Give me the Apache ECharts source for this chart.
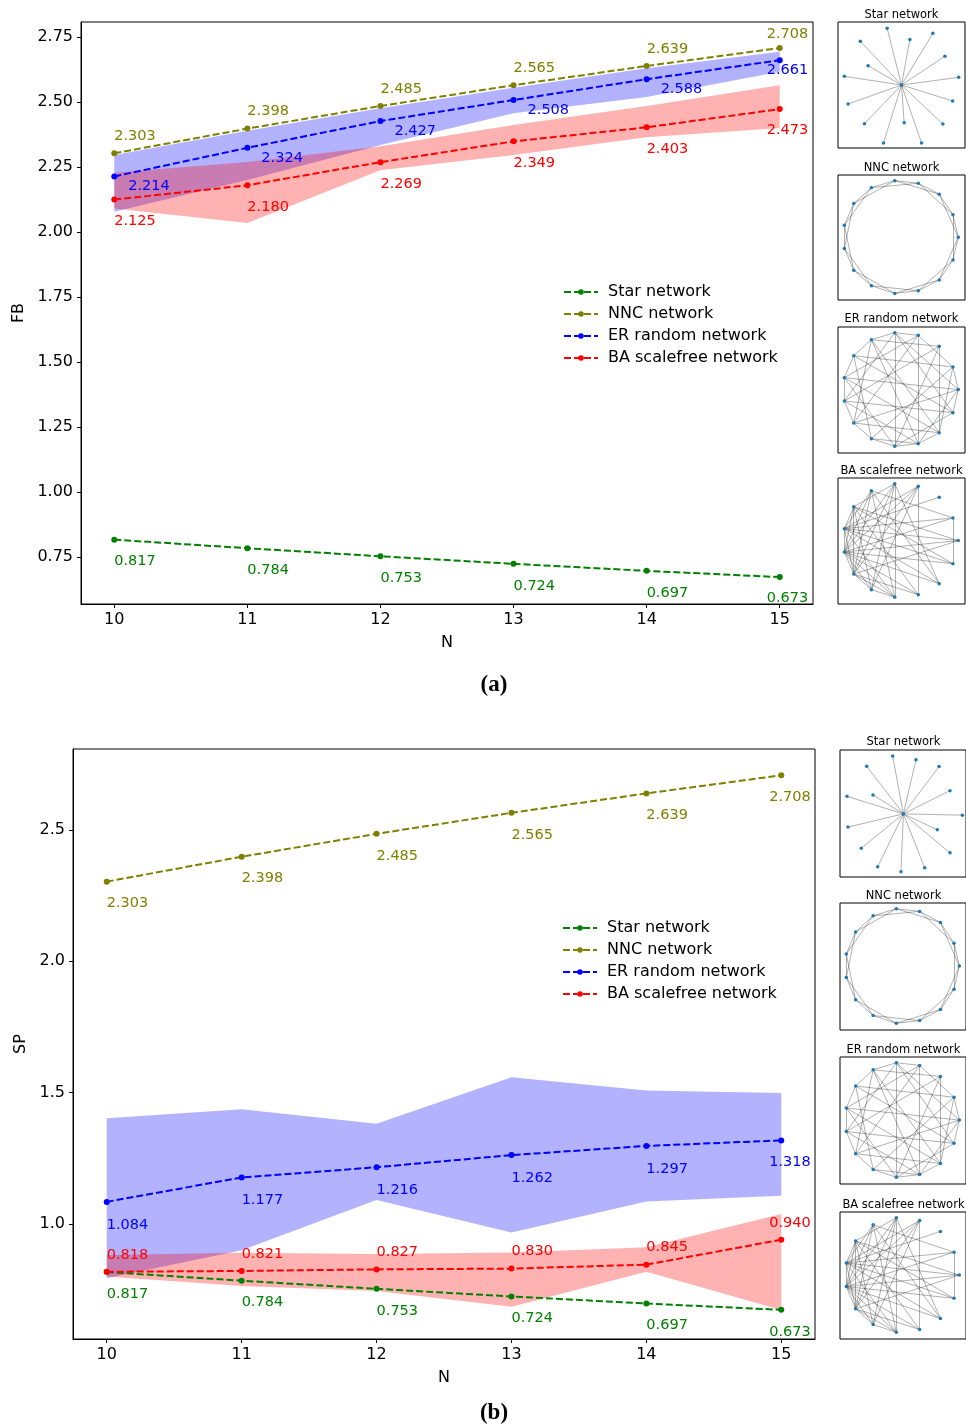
<!DOCTYPE html>
<html>
<head>
<meta charset="utf-8">
<script src="https://cdn.jsdelivr.net/npm/echarts@6/dist/echarts.min.js"></script>
<style>
html,body{margin:0;padding:0;background:#fff;}
#c{width:966px;height:1428px;}
</style>
</head>
<body>
<div id="c"></div>
<script>
// ---------------- data ----------------
const N = [10, 11, 12, 13, 14, 15];
const seriesNames = ['Star network', 'NNC network', 'ER random network', 'BA scalefree network'];

// panel (a): FB
const starFB = [0.817, 0.784, 0.753, 0.724, 0.697, 0.673];
const nncFB  = [2.303, 2.398, 2.485, 2.565, 2.639, 2.708];
const erFB   = [2.214, 2.324, 2.427, 2.508, 2.588, 2.661];
const baFB   = [2.125, 2.180, 2.269, 2.349, 2.403, 2.473];
const erFBLo = [2.078, 2.200, 2.335, 2.457, 2.520, 2.617];
const erFBHi = [2.296, 2.390, 2.476, 2.555, 2.630, 2.694];
const baFBLo = [2.091, 2.035, 2.238, 2.296, 2.365, 2.400];
const baFBHi = [2.228, 2.270, 2.330, 2.412, 2.485, 2.565];

// panel (b): SP
const starSP = [0.817, 0.784, 0.753, 0.724, 0.697, 0.673];
const nncSP  = [2.303, 2.398, 2.485, 2.565, 2.639, 2.708];
const erSP   = [1.084, 1.177, 1.216, 1.262, 1.297, 1.318];
const baSP   = [0.818, 0.821, 0.827, 0.830, 0.845, 0.940];
const erSPLo = [0.793, 0.900, 1.091, 0.967, 1.085, 1.107];
const erSPHi = [1.402, 1.437, 1.381, 1.558, 1.508, 1.498];
const baSPLo = [0.800, 0.764, 0.745, 0.685, 0.818, 0.672];
const baSPHi = [0.882, 0.890, 0.886, 0.891, 0.911, 1.038];

// tick labels
const xTicks = [10, 11, 12, 13, 14, 15];
const yTicksA = [0.75, 1.00, 1.25, 1.50, 1.75, 2.00, 2.25, 2.50, 2.75];
const yTicksB = [1.0, 1.5, 2.0, 2.5];

// network thumbnails (node positions in box units 0..100)
const netTitles = ['Star network', 'NNC network', 'ER random network', 'BA scalefree network'];
const starNodesA = [[50.0,50.0],[38.7,5.0],[56.6,13.8],[74.7,9.0],[17.6,15.3],[84.2,27.2],[23.7,34.7],[5.0,43.1],[95.0,43.9],[7.9,65.1],[90.3,62.7],[20.8,80.7],[52.1,79.9],[82.6,81.0],[35.8,96.0],[65.8,96.0]];
const starNodesB = [[50.3,50.3],[41.8,4.7],[60.3,7.6],[21.2,12.8],[78.6,13.0],[87.3,32.0],[5.6,36.5],[26.2,35.4],[97.1,51.3],[6.3,60.7],[77.2,62.8],[16.9,77.3],[87.3,81.0],[29.9,91.9],[48.4,95.8],[67.2,92.7]];
const starEdges = [[0,1],[0,2],[0,3],[0,4],[0,5],[0,6],[0,7],[0,8],[0,9],[0,10],[0,11],[0,12],[0,13],[0,14],[0,15]];
const circleNodes = [[94.7,49.7],[90.5,31.7],[79.7,15.3],[63.2,6.6],[44.7,4.5],[26.3,10.1],[12.4,22.8],[5.0,40.2],[5.0,58.7],[12.4,76.2],[26.3,88.6],[44.7,94.7],[63.2,92.6],[79.7,83.9],[90.5,68.0]];
const nncEdges = [[0,1],[1,2],[2,3],[3,4],[4,5],[5,6],[6,7],[7,8],[8,9],[9,10],[10,11],[11,12],[12,13],[13,14],[14,0],
                  [0,2],[1,3],[2,4],[3,5],[4,6],[5,7],[6,8],[7,9],[8,10],[9,11],[10,12],[11,13],[12,14],[13,0],[14,1]];
const erEdges = [[0,1],[0,4],[0,7],[0,9],[0,12],[0,14],[1,3],[1,6],[1,10],[1,13],[2,5],[2,8],[2,11],[2,13],
                 [3,4],[3,7],[3,9],[3,12],[4,5],[4,8],[4,11],[4,14],[5,6],[5,9],[5,12],[5,13],[6,7],[6,10],[6,14],
                 [7,8],[7,11],[7,13],[8,9],[8,12],[8,14],[9,10],[9,13],[10,11],[10,12],[11,12],[11,14],[12,13]];
const baEdges = [[2,7],[1,14],[1,7],[1,8],[1,5],[0,7],[0,8],[0,6],[0,9],[14,8],[14,7],[14,6],
                 [13,7],[13,8],[13,5],[13,4],[12,8],[12,6],[12,3],[12,9],[11,7],[11,4],[11,5],[11,9],
                 [10,8],[10,3],[10,6],[10,4],[3,7],[3,8],[3,9],[4,8],[4,9],[4,6],[5,7],[5,8],[5,9],
                 [6,7],[6,8],[6,9],[7,8],[7,9],[8,9],[9,10],[10,11],[8,11]];

// ---------------- styles / layout ----------------
const FONT = 'DejaVu Sans';
const COLORS = ['#008000', '#808000', '#0000ff', '#ff0000'];
const chart = echarts.init(document.getElementById('c'), null, {renderer: 'canvas'});

const mainGrids = [
  {left: 81, top: 22, width: 732, height: 582},
  {left: 73, top: 749, width: 742, height: 590}
];
const thumbGridsA = [
  {left: 838, top: 22, width: 127, height: 126, ty: 15},
  {left: 838, top: 175, width: 127, height: 125, ty: 168},
  {left: 838, top: 327, width: 127, height: 126, ty: 319},
  {left: 838, top: 478, width: 127, height: 126, ty: 471}
];
const thumbGridsB = [
  {left: 840, top: 750, width: 127, height: 127, ty: 742},
  {left: 840, top: 903, width: 127, height: 127, ty: 896},
  {left: 840, top: 1057, width: 127, height: 127, ty: 1050},
  {left: 840, top: 1212, width: 127, height: 127, ty: 1205}
];

const grid = [], xAxis = [], yAxis = [], series = [], graphic = [];

function mainAxes(gi, g, ymin, ymax, yticks, yfmt, yname, ygap) {
  grid.push({left: g.left, top: g.top, width: g.width, height: g.height, show: true,
             borderColor: '#000', borderWidth: 1, backgroundColor: 'transparent'});
  xAxis.push({
    gridIndex: gi, type: 'value', min: 9.75, max: 15.25,
    name: 'N', nameLocation: 'middle', nameGap: 31,
    nameTextStyle: {fontFamily: FONT, fontSize: 16, color: '#000'},
    axisLine: {show: true, onZero: false, lineStyle: {color: '#000', width: 1}},
    axisTick: {show: true, length: 4, lineStyle: {color: '#000'}, customValues: xTicks},
    axisLabel: {show: true, margin: 8, fontFamily: FONT, fontSize: 16, color: '#000', customValues: xTicks,
                formatter: v => String(v)},
    splitLine: {show: false}
  });
  yAxis.push({
    gridIndex: gi, type: 'value', min: ymin, max: ymax,
    name: yname, nameLocation: 'middle', nameGap: ygap,
    nameTextStyle: {fontFamily: FONT, fontSize: 16, color: '#000'},
    axisLine: {show: true, onZero: false, lineStyle: {color: '#000', width: 1}},
    axisTick: {show: true, length: 4, lineStyle: {color: '#000'}, customValues: yticks},
    axisLabel: {show: true, margin: 8, fontFamily: FONT, fontSize: 16, color: '#000', customValues: yticks,
                padding: [4, 0, 0, 0],
                formatter: v => Number(v).toFixed(yfmt)},
    splitLine: {show: false}
  });
}

function band(gi, lo, hi, fill) {
  series.push({
    type: 'custom', xAxisIndex: gi, yAxisIndex: gi, silent: true, z: 1,
    data: [[N[0], lo[0]]],
    renderItem: function (params, api) {
      const pts = [];
      for (let i = 0; i < N.length; i++) pts.push(api.coord([N[i], hi[i]]));
      for (let i = N.length - 1; i >= 0; i--) pts.push(api.coord([N[i], lo[i]]));
      return {type: 'polygon', shape: {points: pts}, style: {fill: fill}};
    }
  });
}

function line(gi, name, vals, color, off, lastOff) {
  series.push({
    type: 'line', name: name, xAxisIndex: gi, yAxisIndex: gi, z: 3,
    symbol: 'circle', symbolSize: 6, showSymbol: true,
    lineStyle: {color: color, width: 2, type: [7, 3]},
    itemStyle: {color: color},
    data: N.map((n, i) => {
      const o = (i === N.length - 1) ? lastOff : off;
      return {
        value: [n, vals[i]],
        label: {show: true, position: [3 + o[0], 5 + o[1]], align: 'left', verticalAlign: 'middle',
                color: color, fontFamily: FONT, fontSize: 14.5,
                formatter: p => vals[p.dataIndex].toFixed(3)}
      };
    })
  });
}

// panel (a)
mainAxes(0, mainGrids[0], 0.5695, 2.808, yTicksA, 2, 'FB', 43);
band(0, erFBLo, erFBHi, 'rgba(0,0,255,0.3)');
band(0, baFBLo, baFBHi, 'rgba(255,0,0,0.3)');
line(0, seriesNames[0], starFB, COLORS[0], [0, 20], [-13, 19]);
line(0, seriesNames[1], nncFB, COLORS[1], [0, -19], [-13, -16]);
line(0, seriesNames[2], erFB, COLORS[2], [14, 8], [-13, 8]);
line(0, seriesNames[3], baFB, COLORS[3], [0, 20], [-13, 19]);

// panel (b)
mainAxes(1, mainGrids[1], 0.562, 2.808, yTicksB, 1, 'SP', 32);
band(1, erSPLo, erSPHi, 'rgba(0,0,255,0.3)');
band(1, baSPLo, baSPHi, 'rgba(255,0,0,0.3)');
line(1, seriesNames[0], starSP, COLORS[0], [0, 20], [-12, 20]);
line(1, seriesNames[1], nncSP, COLORS[1], [0, 20], [-12, 20]);
line(1, seriesNames[2], erSP, COLORS[2], [0, 21], [-12, 20]);
line(1, seriesNames[3], baSP, COLORS[3], [0, -19], [-12, -18]);

// thumbnails
function thumb(g, nodes, edges, title) {
  const gi = grid.length;
  grid.push({left: g.left, top: g.top, width: g.width, height: g.height, show: true,
             borderColor: '#000', borderWidth: 1, backgroundColor: 'transparent'});
  xAxis.push({gridIndex: gi, type: 'value', min: 0, max: 100, show: false});
  yAxis.push({gridIndex: gi, type: 'value', min: 0, max: 100, inverse: true, show: false});
  series.push({
    type: 'graph', coordinateSystem: 'cartesian2d', xAxisIndex: gi, yAxisIndex: gi,
    data: nodes.map(p => ({value: p})),
    links: edges.map(e => ({source: e[0], target: e[1]})),
    symbol: 'circle', symbolSize: 3.5, itemStyle: {color: '#1f77b4'},
    lineStyle: {color: '#000', opacity: 0.35, width: 0.9, curveness: 0},
    label: {show: false}, silent: true, z: 2
  });
  graphic.push({type: 'text', x: g.left + g.width / 2, y: g.ty,
                style: {text: title, font: '11.5px "DejaVu Sans"', fill: '#000', align: 'center', verticalAlign: 'middle'}});
}
thumb(thumbGridsA[0], starNodesA, starEdges, netTitles[0]);
thumb(thumbGridsA[1], circleNodes, nncEdges, netTitles[1]);
thumb(thumbGridsA[2], circleNodes, erEdges, netTitles[2]);
thumb(thumbGridsA[3], circleNodes, baEdges, netTitles[3]);
thumb(thumbGridsB[0], starNodesB, starEdges, netTitles[0]);
thumb(thumbGridsB[1], circleNodes, nncEdges, netTitles[1]);
thumb(thumbGridsB[2], circleNodes, erEdges, netTitles[2]);
thumb(thumbGridsB[3], circleNodes, baEdges, netTitles[3]);

// captions
graphic.push({type: 'text', x: 494, y: 685, style: {text: '(a)', font: 'bold 23px "Liberation Serif"', fill: '#000', align: 'center', verticalAlign: 'middle'}});
graphic.push({type: 'text', x: 494, y: 1413, style: {text: '(b)', font: 'bold 23px "Liberation Serif"', fill: '#000', align: 'center', verticalAlign: 'middle'}});

const legendBase = {
  orient: 'vertical', itemWidth: 34, itemHeight: 7, itemGap: 6, padding: 0,
  data: seriesNames, selectedMode: false,
  textStyle: {fontFamily: FONT, fontSize: 16, color: '#000', padding: [0, 0, 0, 5]}
};

chart.setOption({
  animation: false,
  backgroundColor: '#fff',
  grid: grid, xAxis: xAxis, yAxis: yAxis, series: series, graphic: graphic,
  legend: [
    Object.assign({left: 563, top: 284}, legendBase),
    Object.assign({left: 562, top: 920}, legendBase)
  ]
});
</script>
</body>
</html>
